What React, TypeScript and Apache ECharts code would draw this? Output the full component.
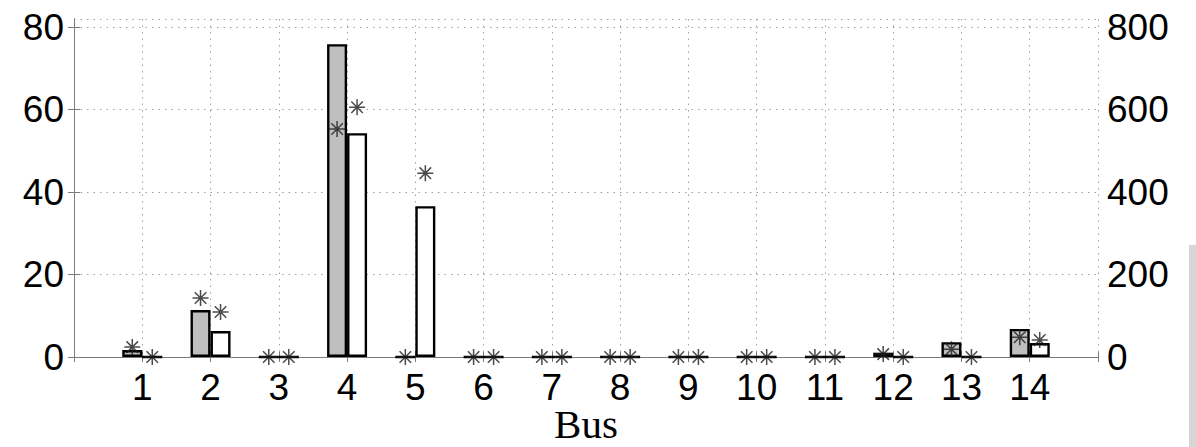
import React, { useEffect, useRef } from "react";
import * as echarts from "echarts";

const buses = [1, 2, 3, 4, 5, 6, 7, 8, 9, 10, 11, 12, 13, 14];
// left axis (gray bars, gray stars)
const grayBars = [1.7, 11.4, 0, 75.9, 0, 0, 0, 0, 0, 0, 0, 1.05, 3.6, 6.8];
const grayStars = [2.4, 14.3, 0, 55.3, 0, 0, 0, 0, 0, 0, 0, 0.7, 1.9, 4.8];
// right axis (white bars, white stars)
const whiteBars = [0, 63, 0, 543, 366, 0, 0, 0, 0, 0, 0, 0, 0, 34];
const whiteStars = [0, 109, 0, 606, 446, 0, 0, 0, 0, 0, 0, 0, 0, 41];
const leftTicks = [0, 20, 40, 60, 80];
const rightTicks = [0, 200, 400, 600, 800];

const STAR = "path://M0,-1L0,1M-1,0L1,0M-0.72,-0.72L0.72,0.72M-0.72,0.72L0.72,-0.72";

export default function App() {
  const ref = useRef<HTMLDivElement>(null);
  useEffect(() => {
    document.body.style.margin = "0";
    const chart = echarts.init(ref.current!, null, { renderer: "svg" });
    const frame = "#7a7a7a";
    const font = "Liberation Sans";
    const labelStyle = { color: "#000", fontFamily: font, fontSize: 37 };
    chart.setOption({
      animation: false,
      backgroundColor: "#fff",
      grid: { left: 74, right: 98, top: 19, bottom: 90, outerBoundsMode: "none", containLabel: false },
      xAxis: [
        {
          type: "value",
          min: 0,
          max: 15,
          interval: 1,
          position: "bottom",
          name: "Bus",
          nameLocation: "middle",
          nameGap: 47,
          nameMoveOverlap: false,
          nameTextStyle: {
            color: "#000",
            fontFamily: "Liberation Serif",
            fontSize: 41,
            lineHeight: 40,
            padding: 0,
          },
          axisLine: { lineStyle: { color: frame, width: 1 } },
          axisTick: { inside: true, length: 5, lineStyle: { color: frame } },
          axisLabel: {
            ...labelStyle,
            margin: 12,
            formatter: (v: number) => (buses.includes(v) ? String(v) : ""),
          },
          splitLine: { show: true, lineStyle: { color: "#a0a0a0", type: [1.5, 5], width: 1 } },
        },
        {
          type: "value",
          min: 0,
          max: 15,
          interval: 1,
          position: "top",
          axisLine: { show: true, lineStyle: { color: frame, width: 1 } },
          axisTick: { show: true, inside: true, length: 5, lineStyle: { color: frame } },
          axisLabel: { show: false },
          splitLine: { show: false },
        },
      ],
      yAxis: [
        {
          type: "value",
          min: 0,
          max: 82,
          interval: 20,
          position: "left",
          axisLine: { show: true, lineStyle: { color: frame, width: 1 } },
          axisTick: { show: true, inside: true, length: 6, lineStyle: { color: frame } },
          axisLabel: {
            ...labelStyle,
            margin: 10,
            showMaxLabel: false,
            formatter: (v: number) => (leftTicks.includes(v) ? String(v) : ""),
          },
          splitLine: { show: true, lineStyle: { color: "#a0a0a0", type: [1.5, 5], width: 1 } },
        },
        {
          type: "value",
          min: 0,
          max: 820,
          interval: 200,
          position: "right",
          axisLine: { show: true, lineStyle: { color: frame, width: 1 } },
          axisTick: { show: true, inside: true, length: 6, lineStyle: { color: frame } },
          axisLabel: {
            ...labelStyle,
            margin: 9,
            showMaxLabel: false,
            formatter: (v: number) => (rightTicks.includes(v) ? String(v) : ""),
          },
          splitLine: { show: false },
        },
      ],
      series: [
        {
          type: "bar",
          xAxisIndex: 0,
          yAxisIndex: 0,
          barWidth: 20,
          barGap: "0%",
          data: buses.map((b, i) => [b, grayBars[i]]),
          itemStyle: { color: "#bfbfbf", borderColor: "#000", borderWidth: 2.4 },
        },
        {
          type: "bar",
          xAxisIndex: 0,
          yAxisIndex: 1,
          barWidth: 20,
          barGap: "0%",
          data: buses.map((b, i) => [b, whiteBars[i]]),
          itemStyle: { color: "#fff", borderColor: "#000", borderWidth: 2.4 },
        },
        {
          type: "scatter",
          xAxisIndex: 0,
          yAxisIndex: 0,
          symbol: STAR,
          symbolSize: 16,
          symbolOffset: [-10, 0],
          data: buses.map((b, i) => [b, grayStars[i]]),
          itemStyle: { color: "none", borderColor: "#1e1e1e", borderWidth: 1.5 },
          z: 5,
        },
        {
          type: "scatter",
          xAxisIndex: 0,
          yAxisIndex: 1,
          symbol: STAR,
          symbolSize: 16,
          symbolOffset: [10, 0],
          data: buses.map((b, i) => [b, whiteStars[i]]),
          itemStyle: { color: "none", borderColor: "#1e1e1e", borderWidth: 1.5 },
          z: 5,
        },
      ],
      graphic: [
        { type: "rect", shape: { x: 1189, y: 245, width: 7, height: 202 }, style: { fill: "#d6d6d6" } },
      ],
    });
    return () => chart.dispose();
  }, []);
  return <div ref={ref} style={{ position: "fixed", left: 0, top: 0, width: 1196, height: 447 }} />;
}
